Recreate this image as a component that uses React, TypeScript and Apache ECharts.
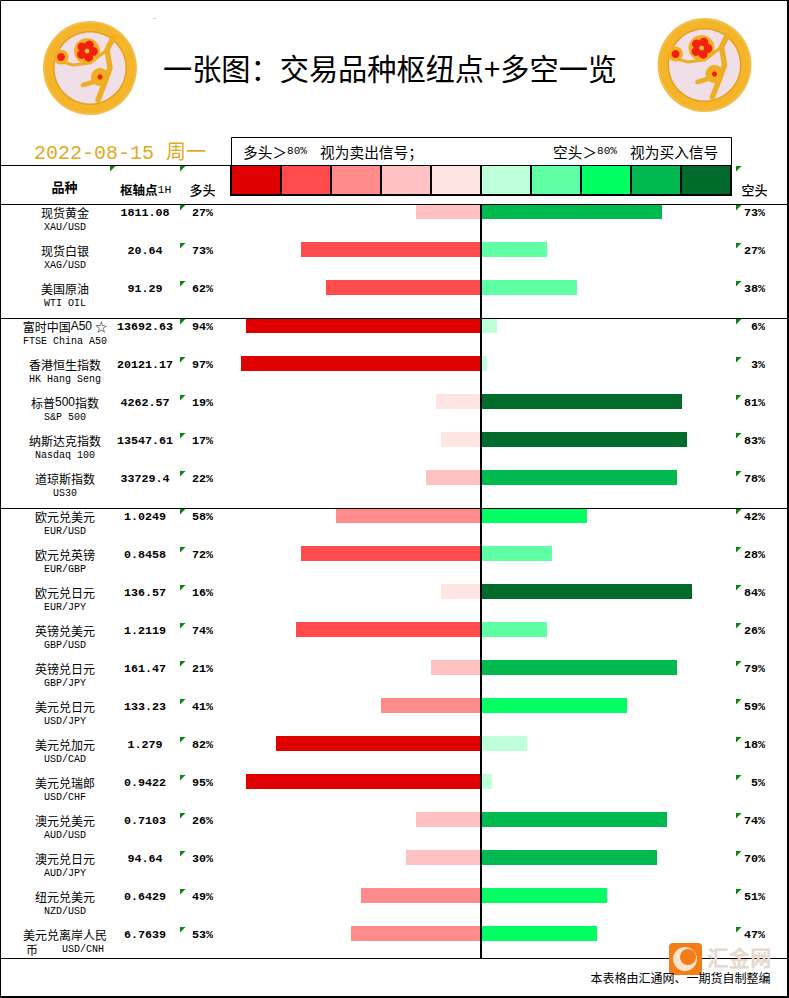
import React, { useEffect, useRef } from "react";
import * as echarts from "echarts";

const names = ["现货黄金","现货白银","美国原油","富时中国A50 ☆","香港恒生指数","标普500指数","纳斯达克指数","道琼斯指数","欧元兑美元","欧元兑英镑","欧元兑日元","英镑兑美元","英镑兑日元","美元兑日元","美元兑加元","美元兑瑞郎","澳元兑美元","澳元兑日元","纽元兑美元","美元兑离岸人民币"];
const codes = ["XAU/USD","XAG/USD","WTI OIL","FTSE China A50","HK Hang Seng","S&P 500","Nasdaq 100","US30","EUR/USD","EUR/GBP","EUR/JPY","GBP/USD","GBP/JPY","USD/JPY","USD/CAD","USD/CHF","AUD/USD","AUD/JPY","NZD/USD","USD/CNH"];
const pivots = ["1811.08","20.64","91.29","13692.63","20121.17","4262.57","13547.61","33729.4","1.0249","0.8458","136.57","1.2119","161.47","133.23","1.279","0.9422","0.7103","94.64","0.6429","6.7639"];
const longPct = [27,73,62,94,97,19,17,22,58,72,16,74,21,41,82,95,26,30,49,53];
const shortPct = [73,27,38,6,3,81,83,78,42,28,84,26,79,59,18,5,74,70,51,47];
// Bar lengths as drawn in the picture (the source's bars come in steps of 2 points)
const longBars = [26,72,62,94,96,18,16,22,58,72,16,74,20,40,82,94,26,30,48,52];
const shortBars = [72,26,38,6,2,80,82,78,42,28,84,26,78,58,18,4,74,70,50,46];
const longColors = ["#FFE4E4","#FFC1C1","#FF8B8B","#FF4B4B","#DF0000"];
const shortColors = ["#BDFFD9","#5FFFA3","#00FF62","#00B94F","#006B2B"];

const MONO = '"Liberation Mono","Noto Sans CJK SC",monospace';
const CJK = '"Noto Sans CJK SC","Liberation Sans",sans-serif';
const band = (v: number) => Math.min(4, Math.floor(v / 20));

function txt(x: number, y: number, text: string, font: string, fill = "#000", align = "left", z = 20) {
  return { type: "text", z, x, y, silent: true, style: { text, font, fill, align, textAlign: align, verticalAlign: "middle", textVerticalAlign: "middle" } };
}
function hline(x1: number, x2: number, y: number, lineWidth = 1, z = 10) {
  return { type: "line", z, silent: true, shape: { x1, y1: y, x2, y2: y }, style: { stroke: "#000", lineWidth } };
}
function vline(x: number, y1: number, y2: number, lineWidth = 1, z = 10) {
  return { type: "line", z, silent: true, shape: { x1: x, y1, x2: x, y2 }, style: { stroke: "#000", lineWidth } };
}
function blossom(cx: number, cy: number, r: number, petal: number) {
  const kids: any[] = [{ type: "circle", shape: { cx, cy, r }, style: { fill: "#F0AE22" } }];
  [0, 1, 2, 3, 4].forEach((k) => {
    const a = (k * 2 * Math.PI) / 5 - 1.2;
    kids.push({ type: "circle", shape: { cx: cx + Math.cos(a) * r * 0.5, cy: cy + Math.sin(a) * r * 0.5, r: petal }, style: { fill: "#F2200C" } });
  });
  kids.push({ type: "circle", shape: { cx, cy, r: r * 0.14 }, style: { fill: "#F7CE5A" } });
  return kids;
}
function bud(cx: number, cy: number, r: number, red: number) {
  return [
    { type: "circle", shape: { cx, cy, r }, style: { fill: "#F0AE22" } },
    { type: "circle", shape: { cx, cy, r: red }, style: { fill: "#F2200C" } },
  ];
}
function branch(points: number[][], lineWidth: number) {
  return { type: "polyline", shape: { points }, style: { stroke: "#EDAE24", lineWidth, fill: null, lineCap: "round", lineJoin: "round" } };
}
function logo(x: number, y: number) {
  return {
    type: "group", x, y, z: 5, silent: true,
    children: [
      { type: "circle", shape: { cx: 0, cy: 0, r: 47 }, style: { fill: "#F4BC4A" } },
      { type: "circle", shape: { cx: 0, cy: 0, r: 45 }, style: { fill: "#F5B52A" } },
      { type: "circle", shape: { cx: 0, cy: 0, r: 37 }, style: { fill: "#E4A01C" } },
      { type: "circle", shape: { cx: 0, cy: 0, r: 35.5 }, style: { fill: "#F1DFE8" } },
      branch([[23, -30], [17, -18], [20, 0], [15, 14], [8, 32]], 5.5),
      branch([[-27, -6], [-17, -3], [0, -5], [17, -18]], 3),
      branch([[-7, 17], [10, 12]], 4.5),
      ...blossom(-3, -17, 13, 4.4),
      ...bud(-29, -11, 7.5, 4),
      ...bud(10, 9, 9, 2.6),
    ],
  };
}

function buildGraphic() {
  const legend: any[] = [];
  const allColors = [...longColors].reverse().concat(shortColors);
  allColors.forEach((c, i) => {
    legend.push({ type: "rect", z: 6, silent: true, shape: { x: 231 + 50 * i, y: 166, width: 50, height: 29 }, style: { fill: c } });
  });
  for (let i = 0; i <= 10; i++) legend.push(vline(231 + 50 * i, 165, 196, 2, 7));
  const richA = { font: `14.7px ${CJK}`, fill: "#000" };
  const richB = { font: `11px ${MONO}`, fill: "#000" };
  const noteL = { type: "text", z: 20, silent: true, x: 243, y: 151, style: { text: "{a|多头＞}{b|80%  }{a|视为卖出信号；}", rich: { a: richA, b: richB }, verticalAlign: "middle", textVerticalAlign: "middle" } };
  const noteR = { type: "text", z: 20, silent: true, x: 553, y: 151, style: { text: "{a|空头＞}{b|80%  }{a|视为买入信号}", rich: { a: richA, b: richB }, verticalAlign: "middle", textVerticalAlign: "middle" } };
  return [
    { type: "rect", z: 8, silent: true, shape: { x: 0.5, y: 0.5, width: 787, height: 996 }, style: { fill: "none", stroke: "#000", lineWidth: 1 } },
    vline(788, 0, 998, 2, 9),
    hline(0, 789, 997, 2, 9),
    { type: "rect", z: 1, silent: true, shape: { x: 153, y: 18, width: 3, height: 1 }, style: { fill: "#C8C8E0" } },
    logo(90, 68),
    logo(704.5, 65),
    txt(163, 67, "一张图：交易品种枢纽点+多空一览", `400 29.2px ${CJK}`),
    txt(34, 153, "2022-08-15 周一", `20px ${MONO}`, "#E3A81F"),
    { type: "rect", z: 6, silent: true, shape: { x: 231.5, y: 137.5, width: 500, height: 28 }, style: { fill: "none", stroke: "#000", lineWidth: 1 } },
    noteL,
    noteR,
    hline(0, 231, 165.5),
    hline(231, 732, 195, 2, 7),
    ...legend,
    hline(0, 788, 204.5),
    hline(0, 788, 318.5),
    hline(0, 788, 508.5),
    hline(0, 788, 958.5),
    vline(481, 204, 958, 2, 11),
    txt(64.5, 186.5, "品种", `bold 13px ${CJK}`, "#000", "center"),
    txt(120, 189.5, "枢轴点", `bold 12.5px ${CJK}`),
    txt(157.5, 189.5, "1H", `11.5px ${MONO}`),
    txt(202.5, 189.5, "多头", `500 13px ${CJK}`, "#000", "center"),
    txt(754.5, 189.5, "空头", `500 13px ${CJK}`, "#000", "center"),
    ...[110, 180, 736].map((x) => ({ type: "polygon", z: 12, silent: true, shape: { points: [[x, 166], [x + 5.5, 166], [x, 171.5]] }, style: { fill: "#0A860A" } })),
    { type: "rect", z: 14, silent: true, shape: { x: 669, y: 943, width: 33, height: 32, r: 4 }, style: { fill: "#F47D17" } },
    { type: "circle", z: 15, silent: true, shape: { cx: 685, cy: 959, r: 12 }, style: { fill: "#FBE3CC" } },
    { type: "circle", z: 15, silent: true, shape: { cx: 688, cy: 957, r: 8 }, style: { fill: "#F47D17" } },
    txt(707, 956.5, "汇金网", `bold 21.5px ${CJK}`, "#E6D8CC", "left", 14),
    txt(590.5, 977.5, "本表格由汇通网、一期货自制整编", `12px ${CJK}`, "#000", "left", 20),
  ];
}

export default function App() {
  const ref = useRef<HTMLDivElement>(null);
  useEffect(() => {
    document.body.style.margin = "0";
    const chart = echarts.init(ref.current!, null, { renderer: "svg" });
    chart.setOption({
      animation: false,
      backgroundColor: "#fff",
      textStyle: { fontFamily: CJK },
      grid: { left: 231, width: 500, top: 192.5, height: 760, containLabel: false },
      xAxis: [
        { type: "value", min: -100, max: 100, show: false, splitLine: { show: false } },
        { type: "value", min: -100.4, max: 99.6, show: false, splitLine: { show: false } },
      ],
      yAxis: {
        type: "category", inverse: true, data: names,
        axisLine: { show: false, onZero: false }, axisTick: { show: false }, splitLine: { show: false },
        axisLabel: {
          margin: 166, align: "center", interval: 0, padding: [17, 0, 0, 0],
          formatter: (v: string, i: number) => {
            if (v.length > 7 && !v.includes(" ")) return `{a|${v.slice(0, 7)}}\n{a|${v.slice(7)}}{b|    ${codes[i]}}`;
            const first = v.replace(/[A-Za-z0-9 ]+/g, (m) => `}{c|${m}}{a|`);
            return `{a|${first}}\n{b|${codes[i]}}`;
          },
          rich: {
            a: { fontSize: 12, lineHeight: 15, color: "#000", fontFamily: CJK },
            b: { fontSize: 10, lineHeight: 16, color: "#000", fontFamily: MONO },
            c: { fontSize: 12, lineHeight: 15, color: "#000", fontFamily: '"Liberation Sans Narrow","Liberation Sans",sans-serif' },
          },
        },
      },
      series: [
        {
          type: "bar", name: "多头", stack: "s", barWidth: 15, xAxisIndex: 0,
          data: longBars.map((v, i) => ({ value: -v, itemStyle: { color: longColors[band(longPct[i])] } })),
        },
        {
          type: "bar", name: "空头", stack: "s", barWidth: 15, xAxisIndex: 1,
          data: shortBars.map((v, i) => ({ value: v, itemStyle: { color: shortColors[band(shortPct[i])] } })),
        },
        {
          type: "custom", name: "表格", silent: true, z: 12, clip: false, xAxisIndex: 0,
          encode: { x: 0, y: 1 },
          data: names.map((_, i) => [0, i]),
          renderItem: (params: any, api: any) => {
            const i = params.dataIndex;
            const y = api.coord([0, i])[1];
            const font = `bold 11.7px ${MONO}`;
            const cell = (x: number, text: string, align: string) => ({
              type: "text",
              style: { x, y: y + 1.5, text, font, fill: "#000", align, verticalAlign: "middle" },
            });
            const tri = (x: number) => ({
              type: "polygon",
              shape: { points: [[x, y - 6.5], [x + 5.5, y - 6.5], [x, y - 1]] },
              style: { fill: "#0A860A" },
            });
            return {
              type: "group",
              children: [
                cell(145, pivots[i], "center"),
                cell(213, `${longPct[i]}%`, "right"),
                cell(765, `${shortPct[i]}%`, "right"),
                tri(180),
                tri(736),
              ],
            };
          },
        },
      ],
      graphic: { elements: buildGraphic() },
    });
    return () => chart.dispose();
  }, []);
  return <div ref={ref} style={{ width: 789, height: 998 }} />;
}
